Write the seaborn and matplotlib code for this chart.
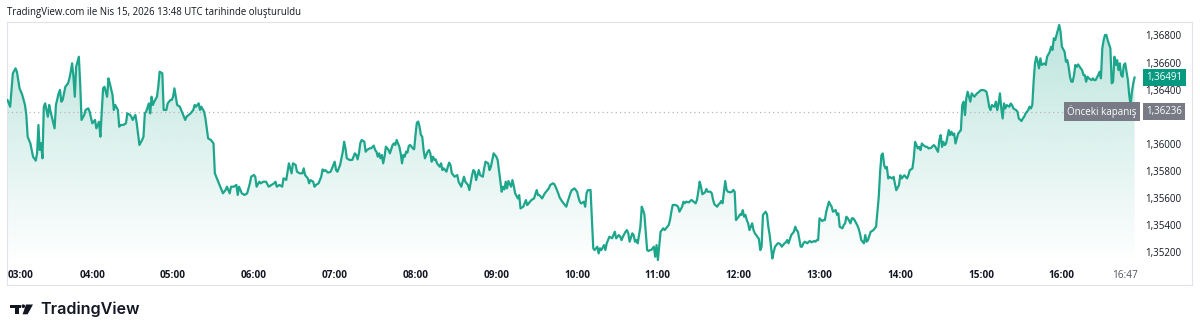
import numpy as np
import pandas as pd
import matplotlib
matplotlib.use("Agg")
import matplotlib.pyplot as plt
import matplotlib.dates as mdates
from matplotlib.patches import Rectangle, Circle, Polygon
from matplotlib.transforms import blended_transform_factory, offset_copy
import seaborn as sns

# ---------------- data ----------------
session_date = "2026-04-15 03:00"
# minutes after 03:00 (local) for each sampled point
minutes = [
    -3, -1, 1, 3, 4, 6, 8, 10, 11, 12, 14, 16, 18, 19, 20, 21, 22, 23, 24, 25,
    27, 28, 29, 32, 33, 35, 36, 37, 38, 40, 42, 43, 44, 45, 46, 47, 48, 50, 51, 52,
    54, 55, 57, 58, 60, 62, 63, 65, 66, 68, 69, 71, 72, 73, 75, 76, 77, 79, 80, 81,
    83, 85, 86, 88, 89, 90, 92, 93, 95, 97, 98, 99, 100, 102, 103, 104, 105, 106, 108, 109,
    110, 112, 113, 115, 116, 118, 119, 120, 121, 123, 125, 126, 128, 129, 130, 133, 135, 136, 137, 139,
    140, 141, 143, 144, 146, 148, 150, 151, 152, 154, 155, 157, 159, 160, 162, 163, 165, 167, 168, 169,
    171, 173, 175, 177, 178, 180, 181, 182, 184, 185, 187, 189, 191, 193, 195, 196, 197, 199, 201, 202,
    204, 206, 208, 209, 211, 212, 214,
    216, 217, 218, 220, 221, 222, 224, 225, 226, 228, 230, 231, 232, 233, 235, 237, 238, 240, 241, 242,
    244, 246, 247, 248, 249, 251, 253, 255, 256, 257, 258, 259, 260, 262, 263, 264, 266, 267, 269, 270,
    271, 272, 273, 274, 275, 276, 277, 278, 279, 280, 281, 283, 284, 285, 286, 288, 289, 290, 291, 292,
    293, 294, 295, 296, 298, 299, 300, 301, 302, 303, 304, 305, 306, 307, 308, 309, 310, 311, 312, 313,
    314, 315, 316, 318, 319, 320, 321, 323, 324, 325, 326, 327, 329, 331, 332, 334, 335, 336, 337, 339,
    340, 342, 343, 344, 345, 346, 347, 348, 350, 351, 352, 354, 355, 356, 357, 358, 360, 361, 363, 364,
    365, 366, 367, 368, 369, 371, 372, 373, 374, 376, 377, 378, 380, 381, 382, 383, 385, 386, 388, 390,
    391, 392, 394, 396, 397, 399, 400, 402, 403, 404, 406, 407, 409, 410, 412, 413, 415, 416, 417, 418,
    420, 421, 422, 423, 425, 426, 427, 428, 430,
    431, 432, 433, 435, 436, 437, 438, 440, 441, 442, 443, 444, 446, 447, 448, 449, 451, 452, 453, 454,
    456, 457, 458, 459, 461, 462, 463, 464, 465, 467, 468, 469, 470, 472, 473, 474, 475, 477, 478, 479,
    480, 482, 483, 484, 485, 487, 488, 489, 490, 491, 493, 494, 495, 496, 498, 499, 500, 501, 503, 504,
    505, 506, 508, 509, 510, 511, 512, 513, 514, 515, 516, 517, 519, 520, 521, 522, 524, 525, 526, 527,
    528, 530, 531, 532, 534, 535, 536, 537, 538, 539, 540, 541, 542, 543, 544, 545, 546, 547, 548, 550,
    551, 552, 553, 555, 556, 557, 558, 560, 561, 562, 563, 564, 565, 566, 567, 569, 570, 571, 572, 574,
    575, 576, 577, 579, 580, 581, 582, 583, 584, 586, 587, 588, 589, 591, 592, 593, 594, 596, 597, 598,
    599, 600, 602, 603, 604, 605, 607, 608, 609, 610, 612, 613, 614, 615, 617, 618, 619, 620, 621, 623,
    624, 625, 626, 628, 629, 630, 631, 633, 634, 635, 636, 638, 639, 640, 641, 642, 644, 645,
    646, 647, 648, 649, 650, 651, 652, 654, 655, 656, 657, 659, 660, 661, 662, 663, 665, 666, 667, 669,
    670, 671, 673, 674, 675, 676, 677, 679, 680, 681, 683, 684, 685, 686, 688, 689, 690, 691, 692, 693,
    694, 696, 697, 698, 699, 700, 701, 703, 704, 705, 706, 707, 708, 709, 710, 712, 713, 714, 715, 717,
    718, 719, 720, 722, 724, 725, 726, 727, 728, 730, 731, 732, 733, 734, 735, 736, 737, 738, 739, 741,
    742, 743, 744, 746, 747, 748, 750, 751, 752, 753, 755, 756, 757, 758, 759, 760, 761, 762, 763, 764,
    765, 767, 768, 769, 771, 772, 773, 774, 775, 776, 777, 778, 779, 780, 782, 783, 784, 785, 786, 787,
    788, 789, 790, 791, 792, 794, 795, 796, 797, 798, 799, 800, 802, 803, 804, 805, 807, 808, 809, 810,
    811, 812, 813, 814, 816, 817, 818, 819, 820, 821, 822, 823, 824, 825, 826, 827, 828, 829, 830, 831,
    832, 833, 834,
]
prices = [
    1.36323, 1.36273, 1.36520, 1.36557, 1.36532, 1.36409, 1.36360, 1.36286, 1.36212, 1.36051,
    1.36002, 1.35903, 1.35874, 1.35928, 1.36138, 1.35953, 1.36002, 1.35891, 1.36273, 1.36298,
    1.36199, 1.36286, 1.36236, 1.36113, 1.36286, 1.36372, 1.36397, 1.36310, 1.36323, 1.36421,
    1.36446, 1.36483, 1.36532, 1.36594, 1.36495, 1.36347, 1.36569, 1.36643, 1.36446, 1.36175,
    1.36212, 1.36249, 1.36261, 1.36236, 1.36150, 1.36175, 1.36113, 1.36162, 1.36051, 1.36409,
    1.36421, 1.36347, 1.36483, 1.36446, 1.36360, 1.36249, 1.36286, 1.36249, 1.36125, 1.36138,
    1.36138, 1.36150, 1.36224, 1.36212, 1.36199, 1.36175, 1.36212, 1.36150, 1.35990, 1.36027,
    1.36051, 1.36224, 1.36236, 1.36298, 1.36224, 1.36347, 1.36286, 1.36310, 1.36347, 1.36421,
    1.36532, 1.36520, 1.36249, 1.36249, 1.36298, 1.36323, 1.36323, 1.36347, 1.36409, 1.36286,
    1.36273, 1.36249, 1.36199, 1.36175, 1.36199, 1.36224, 1.36249, 1.36286, 1.36273, 1.36298,
    1.36249, 1.36273, 1.36236, 1.36187, 1.36039, 1.36027, 1.36002, 1.35780, 1.35755, 1.35706,
    1.35681, 1.35632, 1.35657, 1.35681, 1.35632, 1.35681, 1.35681, 1.35694, 1.35620, 1.35681,
    1.35632, 1.35620, 1.35632, 1.35706, 1.35755, 1.35768, 1.35755, 1.35681, 1.35718, 1.35706,
    1.35718, 1.35718, 1.35681, 1.35694, 1.35706, 1.35718, 1.35681, 1.35694, 1.35681, 1.35743,
    1.35731, 1.35854, 1.35780, 1.35854, 1.35842, 1.35792, 1.35780,
    1.35780, 1.35817, 1.35767, 1.35743, 1.35706, 1.35730, 1.35718, 1.35681, 1.35693, 1.35706,
    1.35755, 1.35809, 1.35797, 1.35804, 1.35785, 1.35792, 1.35817, 1.35866, 1.35804, 1.35792,
    1.35841, 1.35940, 1.36014, 1.35965, 1.35891, 1.35879, 1.35879, 1.35928, 1.35916, 1.35883,
    1.35928, 1.36002, 1.36027, 1.36014, 1.35940, 1.35953, 1.35965, 1.35965, 1.35985, 1.35953,
    1.35940, 1.35903, 1.35928, 1.35891, 1.35916, 1.35854, 1.35903, 1.35977, 1.35965, 1.35953,
    1.35928, 1.35990, 1.36002, 1.35990, 1.36027, 1.35977, 1.35928, 1.35854, 1.35916, 1.35903,
    1.35940, 1.35933, 1.35982, 1.35990, 1.35965, 1.35958, 1.36064, 1.36155, 1.36163, 1.36126,
    1.36064, 1.36051, 1.35953, 1.35891, 1.35916, 1.35940, 1.35953, 1.35928, 1.35866, 1.35903,
    1.35879, 1.35883, 1.35854, 1.35829, 1.35854, 1.35804, 1.35817, 1.35792, 1.35829, 1.35859,
    1.35841, 1.35780, 1.35755, 1.35767, 1.35718, 1.35681, 1.35718, 1.35755, 1.35718, 1.35693,
    1.35656, 1.35767, 1.35804, 1.35792, 1.35730, 1.35767, 1.35804, 1.35767, 1.35755, 1.35817,
    1.35866, 1.35854, 1.35804, 1.35829, 1.35879, 1.35928, 1.35903, 1.35879, 1.35718, 1.35644,
    1.35681, 1.35661, 1.35718, 1.35669, 1.35723, 1.35681, 1.35730, 1.35686, 1.35632, 1.35594,
    1.35619, 1.35520, 1.35533, 1.35557, 1.35582, 1.35545, 1.35570, 1.35582, 1.35594, 1.35656,
    1.35619, 1.35619, 1.35594, 1.35632, 1.35644, 1.35669, 1.35693, 1.35706, 1.35701, 1.35681,
    1.35632, 1.35602, 1.35570, 1.35557, 1.35533, 1.35570, 1.35632, 1.35656, 1.35661, 1.35669,
    1.35644, 1.35602, 1.35570, 1.35557, 1.35570, 1.35533, 1.35632, 1.35656, 1.35656,
    1.35447, 1.35225, 1.35212, 1.35237, 1.35187, 1.35225, 1.35212, 1.35249, 1.35212, 1.35262,
    1.35286, 1.35311, 1.35299, 1.35323, 1.35348, 1.35299, 1.35323, 1.35311, 1.35286, 1.35311,
    1.35348, 1.35360, 1.35336, 1.35274, 1.35336, 1.35323, 1.35274, 1.35286, 1.35262, 1.35385,
    1.35533, 1.35508, 1.35472, 1.35212, 1.35205, 1.35212, 1.35212, 1.35237, 1.35163, 1.35249,
    1.35138, 1.35348, 1.35360, 1.35373, 1.35360, 1.35385, 1.35397, 1.35434, 1.35496, 1.35546,
    1.35546, 1.35541, 1.35533, 1.35496, 1.35533, 1.35570, 1.35558, 1.35570, 1.35565, 1.35575,
    1.35583, 1.35575, 1.35558, 1.35583, 1.35644, 1.35718, 1.35681, 1.35625, 1.35632, 1.35639,
    1.35664, 1.35644, 1.35644, 1.35632, 1.35583, 1.35550, 1.35533, 1.35550, 1.35558, 1.35575,
    1.35558, 1.35723, 1.35657, 1.35644, 1.35639, 1.35644, 1.35657, 1.35644, 1.35434, 1.35447,
    1.35459, 1.35476, 1.35472, 1.35508, 1.35459, 1.35472, 1.35434, 1.35410, 1.35360, 1.35410,
    1.35360, 1.35336, 1.35323, 1.35294, 1.35212, 1.35237, 1.35472, 1.35496, 1.35476, 1.35385,
    1.35323, 1.35237, 1.35150, 1.35200, 1.35237, 1.35262, 1.35262, 1.35254, 1.35237, 1.35262,
    1.35269, 1.35286, 1.35262, 1.35323, 1.35336, 1.35348, 1.35385, 1.35360, 1.35348, 1.35237,
    1.35237, 1.35262, 1.35274, 1.35262, 1.35274, 1.35279, 1.35269, 1.35279, 1.35274, 1.35286,
    1.35286, 1.35447, 1.35427, 1.35434, 1.35434, 1.35496, 1.35570, 1.35550, 1.35533, 1.35496,
    1.35508, 1.35472, 1.35484, 1.35385, 1.35373, 1.35397, 1.35410, 1.35459, 1.35447, 1.35410,
    1.35447, 1.35447, 1.35434, 1.35397, 1.35373, 1.35336, 1.35286, 1.35262, 1.35323, 1.35274,
    1.35286, 1.35348, 1.35353, 1.35360, 1.35373, 1.35385, 1.35607, 1.35791,
    1.35915, 1.35927, 1.35841, 1.35816, 1.35828, 1.35742, 1.35754, 1.35742, 1.35754, 1.35705,
    1.35655, 1.35692, 1.35766, 1.35742, 1.35754, 1.35766, 1.35742, 1.35766, 1.35803, 1.35816,
    1.35890, 1.36013, 1.35964, 1.35976, 1.35952, 1.36001, 1.35989, 1.35976, 1.35976, 1.35964,
    1.35969, 1.35981, 1.35989, 1.35976, 1.35939, 1.36026, 1.36063, 1.35976, 1.36013, 1.35989,
    1.36001, 1.36100, 1.36063, 1.36088, 1.36063, 1.36075, 1.36001, 1.36075, 1.36088, 1.36100,
    1.36285, 1.36310, 1.36211, 1.36335, 1.36384, 1.36310, 1.36372, 1.36359, 1.36347, 1.36372,
    1.36379, 1.36389, 1.36396, 1.36396, 1.36384, 1.36335, 1.36273, 1.36248, 1.36285, 1.36273,
    1.36310, 1.36248, 1.36297, 1.36372, 1.36260, 1.36186, 1.36297, 1.36260, 1.36285, 1.36273,
    1.36297, 1.36285, 1.36260, 1.36248, 1.36236, 1.36186, 1.36167, 1.36186, 1.36199, 1.36223,
    1.36248, 1.36273, 1.36260, 1.36285, 1.36458, 1.36594, 1.36643, 1.36606, 1.36557, 1.36631,
    1.36582, 1.36594, 1.36582, 1.36643, 1.36680, 1.36717, 1.36693, 1.36779, 1.36766, 1.36804,
    1.36841, 1.36878, 1.36828, 1.36717, 1.36680, 1.36606, 1.36618, 1.36569, 1.36495, 1.36458,
    1.36458, 1.36507, 1.36582, 1.36569, 1.36586, 1.36557, 1.36544, 1.36507, 1.36507, 1.36458,
    1.36495, 1.36483, 1.36470, 1.36483, 1.36470, 1.36470, 1.36507, 1.36532, 1.36483, 1.36705,
    1.36766, 1.36804, 1.36804, 1.36766, 1.36705, 1.36446, 1.36458, 1.36643, 1.36582, 1.36618,
    1.36544, 1.36594, 1.36507, 1.36495, 1.36582, 1.36594, 1.36532, 1.36470, 1.36359, 1.36285,
    1.36384, 1.36446, 1.36491,
]
previous_close = 1.36236
last_price = prices[-1]
hour_labels = ["03:00", "04:00", "05:00", "06:00", "07:00", "08:00", "09:00",
               "10:00", "11:00", "12:00", "13:00", "14:00", "15:00", "16:00"]
last_label = "16:47"
price_ticks = [1.352, 1.354, 1.356, 1.358, 1.360, 1.362, 1.364, 1.366, 1.368]
title_text = "TradingView.com ile Nis 15, 2026 13:48 UTC tarihinde oluşturuldu"
prev_close_text = "Önceki kapanış"
brand_text = "TradingView"

# ---------------- styling ----------------
LINE = "#1ea68c"
BOX_GREEN = "#089981"
GRAY = "#787b86"
TEXT = "#131722"

sns.set_theme(style="white")
plt.rcParams["font.family"] = ["Open Sans", "DejaVu Sans"]

base = pd.Timestamp(session_date)
times = base + pd.to_timedelta(minutes, unit="min")
df = pd.DataFrame({"time": times, "price": prices})

W, H = 1200, 335
fig = plt.figure(figsize=(W / 100, H / 100), dpi=100)
fig.patch.set_facecolor("white")

# pane rectangle in pixels
L, R, T, B = 7, 1192, 22, 285
ax = fig.add_axes([L / W, 1 - B / H, (R - L) / W, (B - T) / H])
ax.set_facecolor("white")

# scale: 1.368 at y=35.5px, 1.352 at y=251.7px
ppu = (251.7 - 35.5) / 0.016
y_top = 1.368 + (35.5 - T) / ppu
y_bot = 1.352 - (B - 251.7) / ppu
fill_base = 1.352 - (264 - 251.7) / ppu

# x scale: 80.8 px per hour, 03:00 at x=11.5 px
px_per_min = 80.8 / 60
x_left = base + pd.Timedelta(minutes=(L - 11.5) / px_per_min)
x_right = base + pd.Timedelta(minutes=(R - 11.5) / px_per_min)

# gradient area under the line
poly = ax.fill_between(df["time"], df["price"], fill_base, color="none", lw=0, zorder=1)
rgba = np.zeros((256, 1, 4))
rgba[..., :3] = matplotlib.colors.to_rgb(LINE)
rgba[..., 3] = np.linspace(0.30, 0.0, 256)[:, None]
xn0, xn1 = mdates.date2num(df["time"].iloc[0]), mdates.date2num(df["time"].iloc[-1])
im = ax.imshow(rgba, extent=[xn0, xn1, fill_base, y_top], aspect="auto",
               origin="upper", zorder=1, interpolation="bilinear")
im.set_clip_path(poly.get_paths()[0], transform=ax.transData)

sns.lineplot(data=df, x="time", y="price", ax=ax, color=LINE, linewidth=1.6,
             estimator=None, sort=False, zorder=3)

ax.set_xlim(x_left, x_right)
ax.set_ylim(y_bot, y_top)
ax.set_xlabel("")
ax.set_ylabel("")

# previous close dotted line
label_left_frac = (1063 - L) / (R - L)
ax.axhline(previous_close, xmin=0, xmax=label_left_frac, color="#b2b5be",
           linestyle=(0, (1, 2.5)), linewidth=0.9, zorder=2)

# x ticks
tick_times = [base + pd.Timedelta(hours=i) for i in range(len(hour_labels))]
tick_times.append(pd.Timestamp(f"2026-04-15 {last_label}"))
ax.set_xticks(tick_times)
ax.set_xticklabels(hour_labels + [last_label])
ax.tick_params(axis="x", length=0, pad=-10.5, labelsize=7.2, colors=TEXT)
xlabels = ax.get_xticklabels()
for lab in xlabels[:-1]:
    lab.set_fontweight("bold")
xlabels[0].set_horizontalalignment("left")
xlabels[0].set_transform(offset_copy(xlabels[0].get_transform(), fig=fig, x=-3.5, units="dots"))
xlabels[-1].set_color("#50535e")

# y ticks on the right, inside the pane (the 1,36200 label sits under the close box)
ax.yaxis.tick_right()
ax.set_yticks(price_ticks)
ax.set_yticklabels(["" if abs(v - previous_close) < 0.0005 else f"{v:.5f}".replace(".", ",")
                    for v in price_ticks])
ax.tick_params(axis="y", length=0, pad=-33.5, labelsize=7.0, colors=TEXT)

for s in ax.spines.values():
    s.set_color("#e0e3eb")
    s.set_linewidth(0.8)

trans = blended_transform_factory(ax.transAxes, ax.transData)
lab_x = (1146.5 - L) / (R - L)
ax.text(lab_x, last_price, f"{last_price:.5f}".replace(".", ","), transform=trans,
        ha="left", va="center", fontsize=7.0, color="white", zorder=6,
        bbox=dict(boxstyle="square,pad=0.32", fc=BOX_GREEN, ec="none"))
ax.text(lab_x, previous_close, f"{previous_close:.5f}".replace(".", ","), transform=trans,
        ha="left", va="center", fontsize=7.0, color="white", zorder=6,
        bbox=dict(boxstyle="square,pad=0.32", fc=GRAY, ec="none"))
ax.text((1067 - L) / (R - L), previous_close, prev_close_text, transform=trans,
        ha="left", va="center", fontsize=7.0, color="white", zorder=6,
        bbox=dict(boxstyle="square,pad=0.32", fc=GRAY, ec="none"))

# header text
fig.text(7 / W, 1 - 12.5 / H, title_text, ha="left", va="center",
         fontsize=6.9, color=TEXT)

# brand logo (pixel overlay)
ov = fig.add_axes([0, 0, 1, 1], zorder=-1)
ov.set_xlim(0, W)
ov.set_ylim(H, 0)
ov.axis("off")
ov.add_patch(Rectangle((10, 304.5), 10.5, 3.2, color=TEXT, lw=0))
ov.add_patch(Rectangle((14.5, 304.5), 4.3, 9.8, color=TEXT, lw=0))
ov.add_patch(Circle((23.3, 306.2), 1.8, color=TEXT, lw=0))
ov.add_patch(Polygon([(26.0, 304.5), (33.0, 304.5), (27.6, 314.3), (22.6, 314.3)],
                     closed=True, color=TEXT, lw=0))
ov.text(40, 309.5, brand_text, ha="left", va="center", fontsize=11.6,
        fontweight="semibold", color=TEXT, family=["Inter", "DejaVu Sans"])

fig.savefig("out.png", dpi=100, facecolor="white")
